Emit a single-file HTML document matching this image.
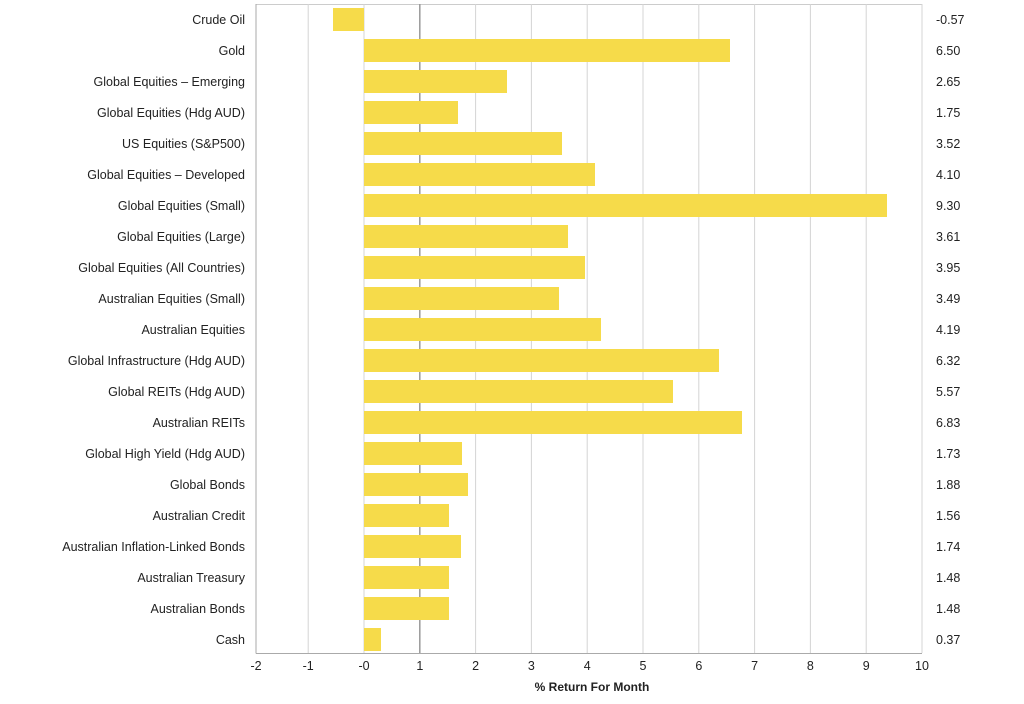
<!DOCTYPE html>
<html><head><style>body{margin:0;background:#fff}svg{display:block;font-family:"Liberation Sans",sans-serif}</style></head>
<body>
<svg width="1024" height="704" viewBox="0 0 1024 704">
<g id="g"></g>
</svg>
<script>
const labels=["Crude Oil","Gold","Global Equities – Emerging","Global Equities (Hdg AUD)","US Equities (S&P500)","Global Equities – Developed","Global Equities (Small)","Global Equities (Large)","Global Equities (All Countries)","Australian Equities (Small)","Australian Equities","Global Infrastructure (Hdg AUD)","Global REITs (Hdg AUD)","Australian REITs","Global High Yield (Hdg AUD)","Global Bonds","Australian Credit","Australian Inflation-Linked Bonds","Australian Treasury","Australian Bonds","Cash"];
const vals=[-0.57,6.50,2.65,1.75,3.52,4.10,9.30,3.61,3.95,3.49,4.19,6.32,5.57,6.83,1.73,1.88,1.56,1.74,1.48,1.48,0.37];
const ends=[333,730,507,458,562,595,887,568,585,559,601,719,673,742,462,468,449,461,449,449,381];
const X=v=>364+v*55.8;
let s='';
s+='<line x1="256" y1="4.5" x2="922" y2="4.5" stroke="#ccc"/>';
for(let t=-1;t<=10;t++){if(t===1)continue;s+=`<line x1="${X(t)}" y1="4" x2="${X(t)}" y2="653" stroke="#d4d4d4"/>`;}
s+=`<line x1="${X(1)}" y1="4" x2="${X(1)}" y2="653" stroke="#999" stroke-width="1.5"/>`;
vals.forEach((v,i)=>{const c=19.5+31*i;const e=ends[i];const x0=Math.min(364,e),w=Math.abs(e-364);
s+=`<rect x="${x0}" y="${c-11.5}" width="${w}" height="23" fill="#f6db4a"/>`;
s+=`<text x="245" y="${c+4.5}" font-size="12.5" text-anchor="end" fill="#222">${labels[i].replace('&','&amp;')}</text>`;
s+=`<text x="936" y="${c+4.5}" font-size="12.5" fill="#222">${v.toFixed(2)}</text>`;});
s+='<line x1="256" y1="4" x2="256" y2="653.5" stroke="#aaa"/><line x1="256" y1="653.5" x2="922" y2="653.5" stroke="#aaa"/>';
for(let t=-2;t<=10;t++){const x=t===-2?256:X(t);s+=`<text x="${x}" y="670" font-size="12.5" text-anchor="middle" fill="#222">${t===0?'-0':t}</text>`;}
s+='<text x="592" y="691" font-size="12" font-weight="bold" text-anchor="middle" fill="#222">% Return For Month</text>';
document.getElementById('g').innerHTML=s;
</script>
</body></html>
